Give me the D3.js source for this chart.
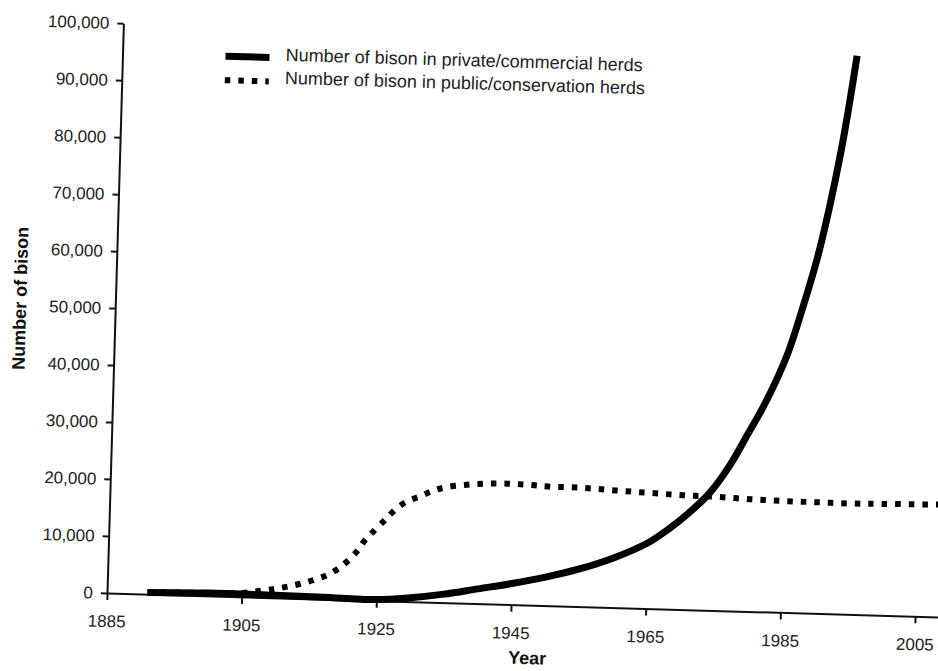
<!DOCTYPE html>
<html>
<head>
<meta charset="utf-8">
<script src="https://cdn.jsdelivr.net/npm/d3@7"></script>
<style>
  body { margin: 0; background: #fff; }
  svg { font-family: "Liberation Sans", Arial, sans-serif; }
</style>
</head>
<body>
<div id="chart"></div>
<script>
// Tick labels
const xTicks = [1885, 1905, 1925, 1945, 1965, 1985, 2005];
const yTicks = [0, 10000, 20000, 30000, 40000, 50000, 60000, 70000, 80000, 90000, 100000];

// Private / commercial herds (solid line)
const privateYears = [1891, 1900, 1910, 1918, 1925, 1930, 1935, 1940, 1945, 1950, 1955, 1960, 1965, 1968,
  1971, 1974, 1977, 1979, 1982, 1985, 1987, 1989, 1990.5, 1992, 1993, 1994];
const privateCounts = [300, 500, 450, 350, 200, 700, 1500, 2600, 3700, 5000, 6600, 8700, 11500, 14000,
  17000, 20600, 25800, 30200, 37000, 45500, 53500, 62500, 71000, 81000, 89000, 98000];

// Public / conservation herds (dotted line)
const publicYears = [1891, 1900, 1905, 1908, 1910, 1912, 1914, 1916, 1918, 1920, 1922, 1923, 1924, 1926, 1927,
  1929, 1931, 1933, 1935, 1938, 1941, 1944, 1947, 1950, 1955, 1960, 1965, 1970, 1975, 1980, 1985, 1990, 1995,
  2000, 2008];
const publicCounts = [400, 500, 700, 1200, 1600, 2100, 2700, 3500, 4500, 6200, 8700, 10500, 11800, 14300, 15600,
  17500, 18500, 19600, 20300, 20800, 21100, 21200, 21100, 20900, 20850, 20550, 20300, 20050, 19950, 19700, 19550,
  19500, 19450, 19550, 19700];

const seriesNames = ['Number of bison in private/commercial herds', 'Number of bison in public/conservation herds'];

const width = 938, height = 671;
const origin = { x: 107, y: 593 };
const tilt = 1.65; // the scanned figure is slightly rotated

const svg = d3.select('#chart').append('svg')
  .attr('width', width)
  .attr('height', height);

const chart = svg.append('g')
  .attr('transform', `rotate(${tilt},${origin.x},${origin.y})`);

const x = d3.scaleLinear().domain([1885, 2010]).range([origin.x, origin.x + 125 * 6.737]);
const y = d3.scaleLinear().domain([0, 100000]).range([origin.y, 23]);

// Axes
const xAxis = chart.append('g')
  .attr('transform', `translate(0,${origin.y})`)
  .call(d3.axisBottom(x).tickValues(xTicks).tickFormat(d3.format('d'))
    .tickSize(7).tickPadding(15).tickSizeOuter(0));

const yAxis = chart.append('g')
  .attr('transform', `translate(${origin.x},0)`)
  .call(d3.axisLeft(y).tickValues(yTicks).tickFormat(d3.format(','))
    .tickSize(6).tickPadding(8).tickSizeOuter(0));

[xAxis, yAxis].forEach(a => {
  a.select('.domain').attr('stroke', '#111').attr('stroke-width', 2);
  a.selectAll('.tick line').attr('stroke', '#111').attr('stroke-width', 2);
  a.selectAll('.tick text').attr('fill', '#222').style('font-size', '17px');
});

// Series
const line = d3.line()
  .x(d => x(d[0]))
  .y(d => y(d[1]))
  .curve(d3.curveCatmullRom.alpha(0.5));

const privateData = d3.zip(privateYears, privateCounts);
const publicData = d3.zip(publicYears, publicCounts);

chart.append('path')
  .datum(publicData)
  .attr('fill', 'none')
  .attr('stroke', '#000')
  .attr('stroke-width', 6)
  .attr('stroke-dasharray', '5.5,8')
  .attr('d', line);

chart.append('path')
  .datum(privateData)
  .attr('fill', 'none')
  .attr('stroke', '#000')
  .attr('stroke-width', 7)
  .attr('d', line);

// Axis titles
chart.append('text')
  .attr('x', 529)
  .attr('y', 652)
  .attr('text-anchor', 'middle')
  .style('font-size', '18px')
  .style('font-weight', 'bold')
  .attr('fill', '#111')
  .text('Year');

chart.append('text')
  .attr('transform', 'translate(12,301) rotate(-90)')
  .attr('text-anchor', 'middle')
  .attr('dominant-baseline', 'central')
  .style('font-size', '18px')
  .style('font-weight', 'bold')
  .attr('fill', '#111')
  .text('Number of bison');

// Legend
const legend = chart.append('g');
const rows = [
  { name: seriesNames[0], y: 53, ty: 50, dash: null, w: 7 },
  { name: seriesNames[1], y: 77, ty: 73, dash: '5.5,8', w: 6 }
];
rows.forEach(r => {
  legend.append('line')
    .attr('x1', 210).attr('x2', 254)
    .attr('y1', r.y).attr('y2', r.y)
    .attr('stroke', '#000')
    .attr('stroke-width', r.w)
    .attr('stroke-dasharray', r.dash);
  legend.append('text')
    .attr('x', 270)
    .attr('y', r.ty)
    .attr('dominant-baseline', 'central')
    .style('font-size', '18px')
    .attr('fill', '#222')
    .text(r.name);
});
</script>
</body>
</html>
